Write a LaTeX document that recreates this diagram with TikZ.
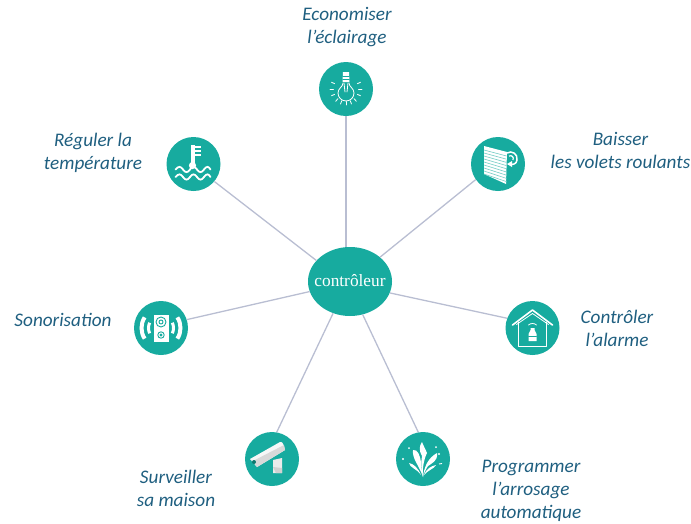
\documentclass[tikz,border=0pt]{standalone}
\usepackage{fontspec}
\setmainfont{Carlito}
\newfontfamily\ctrlfont{Liberation Serif}
\usetikzlibrary{shapes.geometric}
\definecolor{tealc}{HTML}{17AB9F}
\definecolor{linkc}{HTML}{B9BED2}
\definecolor{labelc}{HTML}{1F5F80}
\tikzset{
  disc/.style={circle,fill=tealc,minimum size=54pt,inner sep=0pt},
  hub/.style={ellipse,fill=tealc,minimum width=84pt,minimum height=69pt,inner sep=0pt,inner xsep=-6pt,text=white,font=\ctrlfont\fontsize{17.3}{20}\selectfont},
  link/.style={draw=linkc,line width=1.3pt},
  lbl/.style={text=labelc,align=center,font=\itshape\fontsize{19.2}{23}\selectfont,inner sep=0pt},
  ico/.style={draw=white,line width=0.8pt,line cap=round,line join=round},
  icofill/.style={fill=white,draw=none},
}
\begin{document}
\begin{tikzpicture}[x=1pt,y=-1pt]
\useasboundingbox (0,0) rectangle (691,523);
\node[disc] (bulb) at (346,89) {};
\node[disc] (shutter) at (498,164) {};
\node[disc] (thermo) at (193.5,164) {};
\node[disc] (speaker) at (161,328) {};
\node[disc] (house) at (532.5,328) {};
\node[disc] (camera) at (272,459) {};
\node[disc] (fountain) at (423,459) {};
\node[hub] (ctrl) at (350,281.5) {\raisebox{3pt}{contrôleur}};
\draw[link] (bulb) -- (bulb |- ctrl.north);
\draw[link] (shutter.215) -- (ctrl.39);
\draw[link] (thermo.-40) -- (ctrl.148);
\draw[link] (speaker.18) -- (ctrl.194);
\draw[link] (house.159) -- (ctrl.-16);
\draw[link] (camera.80) -- (ctrl.-118);
\draw[link] (fountain.100) -- (ctrl.-69);
% labels
\node[lbl] (t1) at (347,27.5) {Economiser\\l’éclairage};
\node[lbl] (t2) at (93,152.5) {Réguler la\\température};
\node[lbl] (t3) at (620.5,150.5) {Baisser\\les volets roulants};
\node[lbl] (t4) at (63,320) {Sonorisation};
\node[lbl] (t5) at (617,328.5) {Contrôler\\l’alarme};
\node[lbl] (t6) at (176,488.5) {Surveiller\\sa maison};
\node[lbl] (t7) at (531,491) {Programmer\\l’arrosage\\automatique};
% bulb icon
\begin{scope}[shift={(bulb.center)},ico]
\draw (-3,-6) .. controls (-3,-2) and (-8,-1) .. (-8,4) arc[start angle=180,end angle=0,radius=8] .. controls (8,-1) and (3,-2) .. (3,-6);
\draw[icofill] (-3,-17) -- (3,-17) -- (3.5,-7) -- (-3.5,-7) -- cycle;
\draw[draw=tealc,line width=0.4pt] (-3.2,-13) -- (3.2,-13) (-3.4,-10) -- (3.4,-10);
\draw (-2,-6) -- (-1,3) (2,-6) -- (1,3);
\foreach \a in {0,25,50,70,90,110,130,155,180,205,335}
  \draw (\a:12.5) -- (\a:16);
\end{scope}
% shutter icon
\begin{scope}[shift={(shutter.center)}]
\fill[white] (-14,-18) -- (9,-12) -- (8,20) -- (-14,10) -- cycle;
\foreach \i in {0,...,8}
  \draw[tealc!60!white,line width=0.6pt] (-14,{-14+\i*3}) -- (8.5,{-8+\i*3.2});
\draw[white,line width=1.5pt,line cap=round] (9,-11) .. controls (14,-14) and (20,-10) .. (19,-4) .. controls (18.5,0) and (15,1) .. (12,0);
\draw[white,line width=1.2pt] (11,-8) .. controls (14,-9) and (16,-7) .. (15,-4);
\fill[white] (9,0) -- (14,-3) -- (14,3) -- cycle;
\end{scope}
% thermometer icon
\begin{scope}[shift={(thermo.center)}]
\fill[white] (-3,-19) -- (1,-19) -- (1,0) -- (-3,0) -- cycle;
\fill[white] (-1,1.5) circle (3.6);
\foreach \y in {-17,-13,-9}
  \draw[white,line width=1.6pt] (1,\y) -- (7,\y);
\foreach \y in {5.5,13}
  \draw[white,line width=1.8pt,line cap=round] (-18,\y) .. controls (-15,{\y-3.5}) and (-13,{\y-3.5}) .. (-10.5,\y) .. controls (-8,{\y+3.5}) and (-6,{\y+3.5}) .. (-3.5,\y) .. controls (-1,{\y-3.5}) and (1,{\y-3.5}) .. (3.5,\y) .. controls (6,{\y+3.5}) and (8,{\y+3.5}) .. (10.5,\y) .. controls (13,{\y-3.5}) and (15,{\y-3.5}) .. (17,\y);
\end{scope}
% speaker icon
\begin{scope}[shift={(speaker.center)}]
\fill[white] (-7.5,-13.5) rectangle (8,13.5);
\draw[tealc,line width=0.9pt] (0,-6) circle (5) (0,-6) circle (2);
\draw[tealc,line width=0.9pt] (0,7) circle (3.2) (0,7) circle (1);
\draw[white,line width=3pt] (155:12.5) arc[start angle=155,end angle=205,radius=12.5];
\draw[white,line width=4pt] (147:19.5) arc[start angle=147,end angle=213,radius=19.5];
\draw[white,line width=3pt] (-25:12.5) arc[start angle=-25,end angle=25,radius=12.5];
\draw[white,line width=4pt] (-33:19.5) arc[start angle=-33,end angle=33,radius=19.5];
\end{scope}
% house icon
\begin{scope}[shift={(house.center)},ico]
\draw (-14,-6) -- (-14,18) -- (14,18) -- (14,-6);
\draw[line width=1.6pt] (-20,-3) -- (0,-18) -- (20,-3);
\draw (-16,-3.5) -- (0,-14.5) -- (16,-3.5);
\draw (-4,-3) .. controls (-2,-5) and (2,-5) .. (4,-3);
\draw[icofill] (-2,0) -- (2,0) -- (2,2) -- (4,6) -- (4,13) -- (-4,13) -- (-4,6) -- (-2,2) -- cycle;
\draw[tealc,line width=0.7pt] (-4,8) -- (4,8);
\end{scope}
% camera icon
\begin{scope}[shift={(camera.center)}]
\fill[white!92!black] (1,1) -- (10,-1) -- (10,14) -- (1,14) -- cycle;
\fill[white!82!black] (1,8) -- (4,14) -- (10,14) -- (10,9) -- cycle;
\fill[white!97!black] (-22,0) -- (8,-17) .. controls (11,-18) and (12,-13) .. (13,-9) -- (-15,8) -- cycle;
\fill[white!85!black] (-19,2) -- (12,-14) -- (13,-9) -- (-15,8) -- cycle;
\fill[tealc!70!black] (-18,3) circle (2);
\end{scope}
% fountain icon
\begin{scope}[shift={(fountain.center)}]
\fill[white] (0,18) .. controls (-4,6) and (-11,0) .. (-10,-9) .. controls (-5,-10) and (-3,-3) .. (-2,3) .. controls (-2,8) and (-1,12) .. (0,18) -- cycle;
\fill[white] (0,18) .. controls (-1,10) and (1,0) .. (4,-6) .. controls (2,-11) and (0,-14) .. (-1,-17) .. controls (-4,-13) and (-4,-8) .. (-1,-3) .. controls (-2,3) and (-2,10) .. (0,18) -- cycle;
\fill[white] (0,18) .. controls (1,8) and (5,-1) .. (14,-6) .. controls (15,2) and (9,4) .. (5,7) .. controls (3,10) and (1,14) .. (0,18) -- cycle;
\fill[white] (-2,16) .. controls (-5,9) and (-9,5) .. (-14,4) .. controls (-13,9) and (-7,9) .. (-2,16) -- cycle;
\fill[white] (1,16) .. controls (3,10) and (8,7) .. (13,6) .. controls (11,10) and (5,11) .. (1,16) -- cycle;
\fill[white] (-14,-11) circle (1) (13,-12) circle (1) (16,-5) circle (1.2) (-20,0) circle (1.1);
\draw[white,line width=0.9pt] (16,5) -- (19,4.5);
\end{scope}
\end{tikzpicture}
\end{document}
